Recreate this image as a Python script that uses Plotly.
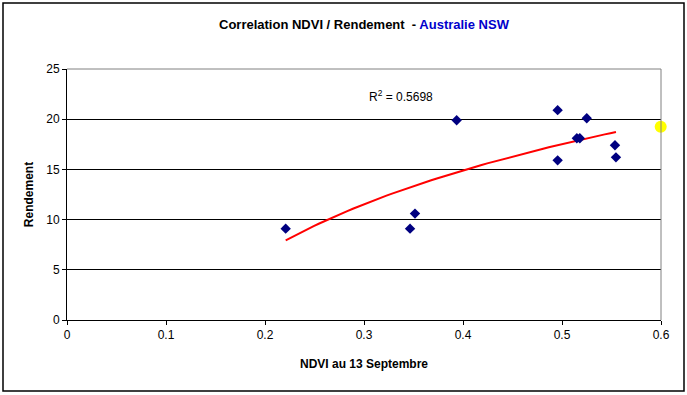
import numpy as np
import plotly.graph_objects as go

# Data
ndvi = [0.2209, 0.3465, 0.3515, 0.3936, 0.4956, 0.4956, 0.5150, 0.5180, 0.5250, 0.5535, 0.5545]
rendement = [9.1, 9.1, 10.6, 19.9, 20.9, 15.9, 18.1, 18.1, 20.1, 17.4, 16.2]
highlight_x = [0.5997]
highlight_y = [19.25]
r2_label = "R<sup>2</sup> = 0.5698"
x_ticks = [0, 0.1, 0.2, 0.3, 0.4, 0.5, 0.6]
y_ticks = [0, 5, 10, 15, 20, 25]

# Logarithmic trend line (as Excel computes it)
lx = np.log(np.array(ndvi))
a, b = np.polyfit(lx, np.array(rendement), 1)
tx = np.linspace(min(ndvi), max(ndvi), 60)
ty = a * np.log(tx) + b

W, H = 687, 395
L, R, T, B = 67, 26, 69, 75
pw, ph = W - L - R, H - T - B

def px_x(p):
    return (p - L) / pw

def px_y(p):
    return (H - B - p) / ph

font = "Liberation Sans, Arial, sans-serif"

fig = go.Figure()
fig.add_trace(go.Scatter(x=tx, y=ty, mode="lines",
                         line=dict(color="#FF0000", width=2), hoverinfo="skip"))
fig.add_trace(go.Scatter(x=ndvi, y=rendement, mode="markers",
                         marker=dict(symbol="diamond", size=8, color="#000080")))
fig.add_trace(go.Scatter(x=highlight_x, y=highlight_y, mode="markers",
                         marker=dict(symbol="circle", size=12, color="#FFFF00"),
                         cliponaxis=False))

fig.update_layout(
    width=W, height=H,
    margin=dict(l=L, r=R, t=T, b=B),
    paper_bgcolor="white", plot_bgcolor="white",
    showlegend=False,
    font=dict(family=font, size=12, color="black"),
    xaxis=dict(range=[0, 0.6], tickvals=x_ticks, ticktext=[str(v) for v in x_ticks],
               showgrid=False, zeroline=False, showline=True, linecolor="black",
               linewidth=1, ticks="outside", ticklen=4, tickcolor="black",
               tickfont=dict(size=12, family=font),
               title=dict(text="<b>NDVI au 13 Septembre</b>", font=dict(size=12, family=font),
                          standoff=18)),
    yaxis=dict(range=[0, 25], tickvals=y_ticks, showgrid=True, gridcolor="black",
               gridwidth=1, zeroline=False, showline=True, linecolor="black",
               linewidth=1, ticks="outside", ticklen=4, tickcolor="black",
               tickfont=dict(size=12, family=font),
               title=dict(text="<b>Rendement</b>", font=dict(size=12, family=font),
                          standoff=10)),
)

# plot area top/right border (grey)
fig.add_shape(type="line", xref="paper", yref="paper", x0=0, x1=1, y0=1, y1=1,
              line=dict(color="#808080", width=1))
fig.add_shape(type="line", xref="paper", yref="paper", x0=1, x1=1, y0=0, y1=1,
              line=dict(color="#808080", width=1))
# outer chart border
fig.add_shape(type="rect", xref="paper", yref="paper",
              x0=px_x(3), x1=px_x(684), y0=px_y(391), y1=px_y(3),
              line=dict(color="black", width=1.5), layer="below")

fig.add_annotation(x=0.5, xref="paper", y=px_y(25), yref="paper",
                   text="<b>Correlation NDVI / Rendement&nbsp;&nbsp;- <span style='color:#0000CC'>Australie NSW</span></b>",
                   showarrow=False, font=dict(size=13, family=font, color="black"),
                   xanchor="center", yanchor="middle")
fig.add_annotation(x=0.337, y=22.3, xref="x", yref="y", text=r2_label,
                   showarrow=False, font=dict(size=12, family=font, color="black"))

fig.write_html("out.html", config={"displayModeBar": False},
               post_script="document.body.style.margin='0';document.body.style.padding='0';document.body.style.overflow='hidden';")
